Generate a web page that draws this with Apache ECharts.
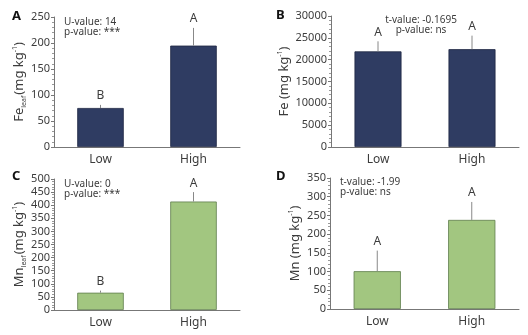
<!DOCTYPE html>
<html>
<head>
<meta charset="utf-8">
<script src="https://cdn.jsdelivr.net/npm/echarts@6/dist/echarts.min.js"></script>
<style>
  html, body { margin: 0; padding: 0; background: #fff; }
  #chart { width: 528px; height: 335px; }
</style>
</head>
<body>
<div id="chart"></div>
<script>
const categories = ["Low", "High"];

const feLeafMean = [75, 195];
const feLeafErr = [6, 34];
const feLeafLetters = ["B", "A"];

const feSoilMean = [21900, 22400];
const feSoilErr = [2300, 3100];
const feSoilLetters = ["A", "A"];

const mnLeafMean = [66, 414];
const mnLeafErr = [8, 36];
const mnLeafLetters = ["B", "A"];

const mnSoilMean = [101, 238];
const mnSoilErr = [55, 48];
const mnSoilLetters = ["A", "A"];

const NAVY = "#2f3c62";
const GREEN = "#a2c680";
const TEXT = "#3c3c3c";
const FONT = "Noto Sans";

const panels = [
  { key: "A", mean: feLeafMean, err: feLeafErr, letters: feLeafLetters, max: 250, interval: 50, color: NAVY, border: "#1e2642",
    grid: { left: 54, top: 17, width: 186, height: 130 }, nameGap: 27,
    name: "{a|Fe}{sub|leaf}{a|(mg kg}{sup|-1}{a|)}",
    note: ["U-value: 14", "p-value: ***"], noteX: 64, noteY: 27, noteAlign: "left" },
  { key: "B", mean: feSoilMean, err: feSoilErr, letters: feSoilLetters, max: 30000, interval: 5000, color: NAVY, border: "#1e2642",
    grid: { left: 331, top: 16, width: 188, height: 131 }, nameGap: 39,
    name: "{a|Fe (mg kg}{sup|-1}{a|)}",
    note: ["t-value: -0.1695", "p-value: ns"], noteX: 421, noteY: 25, noteAlign: "center" },
  { key: "C", mean: mnLeafMean, err: mnLeafErr, letters: mnLeafLetters, max: 500, interval: 50, color: GREEN, border: "#5f7d4c",
    grid: { left: 54, top: 179, width: 186, height: 131 }, nameGap: 26,
    name: "{a|Mn}{sub|leaf}{a|(mg kg}{sup|-1}{a|)}",
    note: ["U-value: 0", "p-value: ***"], noteX: 64, noteY: 189, noteAlign: "left" },
  { key: "D", mean: mnSoilMean, err: mnSoilErr, letters: mnSoilLetters, max: 350, interval: 50, color: GREEN, border: "#5f7d4c",
    grid: { left: 330, top: 178, width: 189, height: 131 }, nameGap: 27,
    name: "{a|Mn (mg kg}{sup|-1}{a|)}",
    note: ["t-value: -1.99", "p-value: ns"], noteX: 340, noteY: 187, noteAlign: "left" }
];

const panelLabelPos = [[12, 10], [276, 9], [12, 170], [276, 170]];

const richName = {
  a: { fontSize: 13, color: TEXT, fontFamily: FONT, lineHeight: 16, verticalAlign: "middle" },
  sub: { fontSize: 7, color: TEXT, fontFamily: FONT, lineHeight: 16, verticalAlign: "bottom", padding: [0, 1, 0, 0] },
  sup: { fontSize: 7, color: TEXT, fontFamily: FONT, lineHeight: 16, verticalAlign: "top" }
};

const grids = [], xAxes = [], yAxes = [], series = [], graphics = [];

panels.forEach((p, i) => {
  grids.push(p.grid);
  xAxes.push({
    type: "category", gridIndex: i, data: categories,
    axisLine: { lineStyle: { color: "#777", width: 1 } },
    axisTick: { show: false },
    axisLabel: { color: TEXT, fontSize: 12, fontFamily: FONT, margin: 7 }
  });
  yAxes.push({
    type: "value", gridIndex: i, min: 0, max: p.max, interval: p.interval,
    name: p.name, nameLocation: "middle", nameGap: p.nameGap, nameRotate: 90,
    nameTextStyle: { rich: richName },
    axisLine: { show: true, lineStyle: { color: "#777", width: 1 } },
    axisTick: { show: true, length: 3, lineStyle: { color: "#777" } },
    minorTick: { show: true, splitNumber: 5, length: 2, lineStyle: { color: "#999" } },
    splitLine: { show: false },
    axisLabel: { color: TEXT, fontSize: 11, fontFamily: FONT, margin: 4, formatter: (v) => String(v) }
  });
  series.push({
    type: "bar", xAxisIndex: i, yAxisIndex: i, data: p.mean, barWidth: "50%",
    itemStyle: { color: p.color, borderColor: p.border, borderWidth: 0.8 },
    silent: true, z: 2
  });
  series.push({
    type: "custom", xAxisIndex: i, yAxisIndex: i, z: 3, silent: true,
    data: p.mean.map((m, j) => [j, m, m + p.err[j]]),
    renderItem: (params, api) => {
      const base = api.coord([api.value(0), api.value(1)]);
      const top = api.coord([api.value(0), api.value(2)]);
      return {
        type: "group",
        children: [
          { type: "line", shape: { x1: base[0], y1: base[1], x2: top[0], y2: top[1] },
            style: { stroke: "#888", lineWidth: 1 } },
          { type: "text", x: top[0], y: top[1] - 3,
            style: { text: p.letters[params.dataIndex], fill: TEXT, fontSize: 12, fontFamily: FONT,
                     textAlign: "center", textVerticalAlign: "bottom" } }
        ]
      };
    }
  });
  graphics.push({
    type: "text", left: panelLabelPos[i][0], top: panelLabelPos[i][1],
    style: { text: p.key, fill: "#111", font: "bold 13px " + FONT }
  });
  graphics.push({
    type: "text", x: p.noteX, y: p.noteY,
    style: { text: p.note.join("\n"), fill: TEXT, fontSize: 10, fontFamily: FONT, lineHeight: 10,
             textAlign: p.noteAlign, textVerticalAlign: "middle" }
  });
});

const chart = echarts.init(document.getElementById("chart"));
chart.setOption({
  animation: false,
  backgroundColor: "#fff",
  grid: grids,
  xAxis: xAxes,
  yAxis: yAxes,
  series: series,
  graphic: graphics
});
</script>
</body>
</html>
